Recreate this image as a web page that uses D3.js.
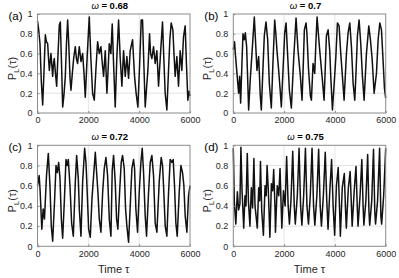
<!DOCTYPE html>
<html>
<head>
<meta charset="utf-8">
<script src="https://cdn.jsdelivr.net/npm/d3@7"></script>
<style>
  body { margin: 0; background: #fff; }
  text { font-family: "Liberation Sans", Arial, sans-serif; }
</style>
</head>
<body>
<script>
// omega values for the four runs and panel letters
var omegas = ['0.68', '0.7', '0.72', '0.75'];
var letters = ['(a)', '(b)', '(c)', '(d)'];
var timeTicks = [0, 2000, 4000, 6000];
var probTicks = [0, 0.2, 0.4, 0.6, 0.8, 1];

// [time, P_L]
var seriesA = [[0,0.93],[47,0.84],[98,0.70],[150,0.32],[204,0.08],[260,0.45],[308,0.79],[350,0.72],[400,0.70],[435,0.55],[465,0.43],[530,0.60],[565,0.48],[597,0.37],[630,0.50],[660,0.55],[700,0.42],[754,0.27],[800,0.55],[858,0.89],[898,0.92],[945,0.50],[990,0.06],[1040,0.18],[1094,0.37],[1140,0.70],[1186,0.94],[1230,0.70],[1280,0.35],[1317,0.23],[1370,0.40],[1422,0.55],[1487,0.67],[1530,0.55],[1578,0.50],[1644,0.67],[1710,0.52],[1775,0.60],[1830,0.40],[1880,0.16],[1960,0.60],[2037,0.97],[2100,0.55],[2168,0.20],[2234,0.13],[2300,0.45],[2365,0.72],[2430,0.60],[2496,0.67],[2550,0.50],[2600,0.37],[2666,0.63],[2731,0.20],[2780,0.45],[2823,0.70],[2888,0.60],[2940,0.90],[3000,0.45],[3058,0.06],[3120,0.55],[3190,0.94],[3255,0.55],[3321,0.27],[3386,0.63],[3452,0.37],[3517,0.57],[3583,0.35],[3648,0.63],[3740,0.74],[3819,0.37],[3880,0.20],[3950,0.06],[4020,0.50],[4081,0.94],[4133,0.94],[4190,0.45],[4238,0.06],[4290,0.25],[4343,0.43],[4408,0.80],[4450,0.60],[4500,0.55],[4565,0.67],[4631,0.50],[4696,0.63],[4762,0.27],[4840,0.60],[4919,0.92],[4970,0.55],[5024,0.20],[5090,0.03],[5155,0.43],[5210,0.75],[5260,0.91],[5326,0.84],[5370,0.60],[5417,0.37],[5483,0.57],[5548,0.27],[5614,0.63],[5679,0.43],[5745,0.77],[5810,0.88],[5860,0.50],[5915,0.13],[5960,0.22],[6000,0.17]];

var seriesB = [[0,0.64],[50,0.72],[80,0.60],[144,0.40],[210,0.20],[250,0.37],[289,0.10],[340,0.50],[381,0.80],[433,0.74],[473,0.81],[525,0.67],[565,0.35],[604,0.03],[670,0.35],[735,0.60],[827,0.97],[880,0.70],[932,0.43],[998,0.57],[1063,0.17],[1103,0.03],[1160,0.40],[1221,0.78],[1287,0.92],[1353,0.74],[1418,0.30],[1497,0.05],[1560,0.50],[1630,0.94],[1675,0.80],[1720,0.63],[1786,0.43],[1840,0.25],[1891,0.06],[1960,0.45],[2024,0.81],[2077,0.91],[2142,0.57],[2208,0.23],[2286,0.05],[2378,0.55],[2470,0.96],[2549,0.63],[2641,0.37],[2706,0.13],[2750,0.45],[2798,0.84],[2864,0.91],[2900,0.80],[2960,0.45],[3035,0.17],[3075,0.13],[3140,0.50],[3206,0.40],[3250,0.70],[3298,0.97],[3350,0.80],[3403,0.63],[3495,0.37],[3574,0.13],[3620,0.45],[3666,0.78],[3732,0.84],[3797,0.63],[3837,0.37],[3903,0.03],[3960,0.25],[4034,0.55],[4099,0.91],[4165,0.88],[4231,0.60],[4296,0.37],[4362,0.13],[4454,0.60],[4520,0.81],[4585,0.91],[4651,0.67],[4717,0.30],[4782,0.13],[4830,0.40],[4887,0.78],[4953,0.94],[5018,0.70],[5084,0.37],[5150,0.13],[5242,0.60],[5334,0.88],[5399,0.74],[5465,0.55],[5544,0.20],[5636,0.40],[5702,0.74],[5768,0.91],[5833,0.84],[5899,0.52],[5950,0.25],[6000,0.15]];

var seriesC = [[0,0.60],[65,0.70],[105,0.54],[170,0.17],[223,0.37],[275,0.27],[354,0.70],[425,0.92],[490,0.60],[543,0.20],[597,0.05],[675,0.47],[728,0.80],[780,0.73],[833,0.83],[885,0.67],[938,0.27],[990,0.08],[1055,0.44],[1120,0.86],[1173,0.80],[1212,0.86],[1278,0.60],[1343,0.23],[1409,0.10],[1488,0.64],[1540,0.90],[1605,0.67],[1645,0.37],[1710,0.10],[1776,0.64],[1855,0.97],[1907,0.83],[1946,0.60],[2012,0.17],[2077,0.09],[2143,0.47],[2208,0.70],[2274,0.93],[2326,0.73],[2379,0.53],[2431,0.27],[2496,0.14],[2562,0.53],[2627,0.77],[2693,0.88],[2758,0.70],[2824,0.27],[2889,0.10],[2940,0.75],[2993,0.90],[3058,0.64],[3111,0.27],[3163,0.17],[3229,0.53],[3294,0.83],[3347,0.90],[3412,0.77],[3465,0.37],[3517,0.20],[3583,0.04],[3661,0.47],[3714,0.77],[3779,0.86],[3819,0.77],[3871,0.37],[3937,0.14],[4002,0.53],[4068,0.83],[4120,0.97],[4173,0.73],[4238,0.30],[4290,0.10],[4369,0.53],[4435,0.83],[4500,0.90],[4566,0.70],[4631,0.23],[4697,0.14],[4789,0.64],[4867,0.88],[4920,0.80],[4959,0.60],[5025,0.20],[5090,0.10],[5156,0.53],[5221,0.86],[5287,0.83],[5339,0.86],[5391,0.60],[5444,0.23],[5497,0.10],[5575,0.53],[5641,0.80],[5706,0.73],[5759,0.60],[5811,0.30],[5877,0.14],[5942,0.50],[6000,0.60]];

var seriesD = [[0,0.97],[40,0.44],[100,0.22],[160,0.54],[210,0.36],[260,0.42],[300,0.98],[345,0.55],[410,0.18],[460,0.50],[500,0.40],[550,0.92],[595,0.45],[655,0.20],[710,0.58],[760,0.38],[810,0.87],[855,0.40],[945,0.18],[1000,0.58],[1040,0.45],[1070,0.84],[1120,0.35],[1185,0.11],[1250,0.60],[1295,0.50],[1330,0.80],[1380,0.55],[1440,0.09],[1500,0.62],[1550,0.55],[1590,0.76],[1640,0.40],[1660,0.14],[1730,0.60],[1790,0.50],[1840,0.77],[1890,0.35],[1910,0.18],[1975,0.55],[2040,0.40],[2100,0.89],[2160,0.40],[2210,0.22],[2270,0.45],[2340,0.94],[2400,0.40],[2440,0.22],[2520,0.50],[2590,0.97],[2650,0.40],[2700,0.21],[2770,0.50],[2840,0.97],[2900,0.40],[2960,0.22],[3030,0.50],[3100,0.97],[3160,0.40],[3210,0.21],[3290,0.50],[3360,0.96],[3420,0.40],[3470,0.20],[3550,0.52],[3620,0.93],[3680,0.45],[3730,0.17],[3800,0.55],[3870,0.86],[3930,0.40],[3990,0.11],[4060,0.60],[4130,0.78],[4180,0.40],[4215,0.10],[4290,0.58],[4370,0.72],[4420,0.35],[4450,0.18],[4530,0.58],[4600,0.74],[4650,0.40],[4680,0.20],[4760,0.55],[4830,0.79],[4880,0.40],[4910,0.20],[4990,0.50],[5060,0.86],[5110,0.40],[5140,0.21],[5220,0.45],[5290,0.91],[5340,0.35],[5370,0.21],[5450,0.45],[5520,0.96],[5570,0.35],[5600,0.22],[5680,0.45],[5760,0.97],[5810,0.30],[5840,0.22],[5920,0.50],[6000,0.97]];

var allSeries = [seriesA, seriesB, seriesC, seriesD];

var width = 399,
    height = 278;

var svg = d3.select('body')
    .append('svg')
    .attr('width', width)
    .attr('height', height);

// plot boxes, in pixels: [left, right, top, bottom]
var boxes = [
    [37.5, 190, 14, 113],
    [233.3, 385.7, 14, 113],
    [37.5, 190, 145.3, 246.3],
    [233.3, 385.7, 145.3, 246.3]
];

var frameColor = '#8a8a8a',
    gridColor = '#e3e3e3',
    labelColor = '#262626';

boxes.forEach(function(b, i) {
    var x = d3.scaleLinear().domain([0, 6000]).range([b[0], b[1]]);
    var y = d3.scaleLinear().domain([0, 1]).range([b[3], b[2]]);

    var g = svg.append('g');

    // grid first, underneath the trace
    g.selectAll('line.vgrid')
        .data(timeTicks.slice(1, -1))
        .enter().append('line')
        .attr('x1', function(d) { return x(d); })
        .attr('x2', function(d) { return x(d); })
        .attr('y1', b[2]).attr('y2', b[3])
        .attr('stroke', gridColor).attr('stroke-width', 1);

    g.selectAll('line.hgrid')
        .data(probTicks.slice(1, -1))
        .enter().append('line')
        .attr('x1', b[0]).attr('x2', b[1])
        .attr('y1', function(d) { return y(d); })
        .attr('y2', function(d) { return y(d); })
        .attr('stroke', gridColor).attr('stroke-width', 1);

    var line = d3.line()
        .x(function(d) { return x(d[0]); })
        .y(function(d) { return y(d[1]); });

    g.append('path')
        .datum(allSeries[i])
        .attr('d', line)
        .attr('fill', 'none')
        .attr('stroke', '#111')
        .attr('stroke-width', 1.5)
        .attr('stroke-linejoin', 'round');

    // axes with inward ticks
    var xAxis = g.append('g')
        .attr('transform', 'translate(0,' + b[3] + ')')
        .call(d3.axisBottom(x).tickValues(timeTicks).tickSize(-2).tickPadding(4)
            .tickFormat(d3.format('d')));
    var yAxis = g.append('g')
        .attr('transform', 'translate(' + b[0] + ',0)')
        .call(d3.axisLeft(y).tickValues(probTicks).tickSize(-2).tickPadding(5)
            .tickFormat(function(d) { return d === 0 || d === 1 ? d : d3.format('.1f')(d); }));

    [xAxis, yAxis].forEach(function(a) {
        a.select('.domain').remove();
        a.selectAll('line').attr('stroke', frameColor);
        a.selectAll('text')
            .attr('fill', labelColor)
            .style('font-size', '9px');
    });

    g.append('rect')
        .attr('x', b[0]).attr('y', b[2])
        .attr('width', b[1] - b[0]).attr('height', b[3] - b[2])
        .attr('fill', 'none')
        .attr('stroke', frameColor)
        .attr('stroke-width', 1);

    // title: omega = value
    var title = g.append('text')
        .attr('x', (b[0] + b[1]) / 2 - 4)
        .attr('y', b[2] - 5.5)
        .attr('text-anchor', 'middle')
        .attr('fill', '#000')
        .style('font-size', '9.5px');
    title.append('tspan').text('\u03c9').style('font-style', 'italic');
    title.append('tspan').text(' = ' + omegas[i]).style('font-weight', 'bold');

    // panel letter
    g.append('text')
        .attr('x', b[0] - 29)
        .attr('y', b[2] + 6)
        .attr('fill', '#000')
        .style('font-size', '11.5px')
        .text(letters[i]);

    // y label P_L(tau)
    var yl = g.append('text')
        .attr('transform', 'translate(' + (b[0] - 22) + ',' + ((b[2] + b[3]) / 2 + 5) + ') rotate(-90)')
        .attr('text-anchor', 'middle')
        .attr('fill', labelColor)
        .style('font-size', '11px');
    yl.append('tspan').text('P');
    yl.append('tspan').text('L').attr('dy', 3).style('font-size', '8px');
    yl.append('tspan').text('(\u03c4)').attr('dy', -3);

    // x label only on bottom row
    if (i > 1) {
        g.append('text')
            .attr('x', (b[0] + b[1]) / 2)
            .attr('y', b[3] + 27)
            .attr('text-anchor', 'middle')
            .attr('fill', labelColor)
            .style('font-size', '11px')
            .text('Time \u03c4');
    }
});
</script>
</body>
</html>
